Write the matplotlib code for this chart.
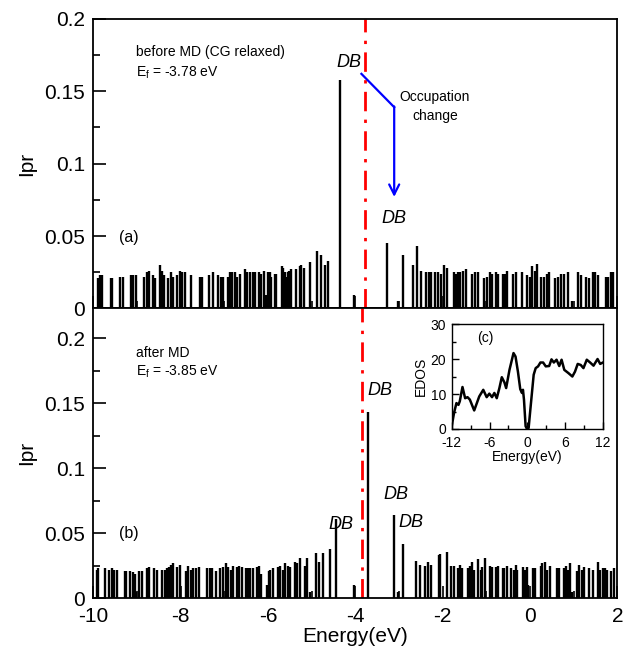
import matplotlib
matplotlib.use("Agg")
import matplotlib.pyplot as plt
from matplotlib.ticker import MultipleLocator

plt.rcParams['font.family'] = ['Liberation Sans', 'DejaVu Sans']
plt.rcParams['axes.unicode_minus'] = False

# ---------------- data ----------------
# (a) before MD: state energies (eV) and Ipr
E_a = [-9.89, -9.85, -9.79, -9.60, -9.57, -9.39, -9.33, -9.14, -9.10, -9.01,
       -8.83, -8.76, -8.72, -8.64, -8.58, -8.47, -8.42, -8.37, -8.29, -8.23,
       -8.18, -8.09, -8.02, -7.97, -7.90, -7.76, -7.56, -7.50, -7.36, -7.25,
       -7.14, -7.08, -7.02, -6.91, -6.87, -6.82, -6.76, -6.70, -6.64, -6.53,
       -6.47, -6.41, -6.35, -6.29, -6.20, -6.15, -6.08, -6.04, -6.00, -5.96,
       -5.92, -5.85, -5.82, -5.69, -5.66, -5.62, -5.59, -5.55, -5.51, -5.47,
       -5.36, -5.27, -5.24, -5.17, -5.03, -4.88, -4.78, -4.69, -4.62, -4.34,
       -4.04, -3.27, -3.02, -2.91, -2.69, -2.59, -2.49, -2.38, -2.32, -2.26,
       -2.18, -2.11, -2.03, -1.97, -1.91, -1.75, -1.70, -1.65, -1.60, -1.53,
       -1.46, -1.33, -1.26, -1.20, -1.05, -0.99, -0.91, -0.86, -0.79, -0.73,
       -0.62, -0.58, -0.53, -0.38, -0.32, -0.18, -0.07, 0.00, 0.05, 0.12,
       0.17, 0.25, 0.31, 0.38, 0.44, 0.57, 0.63, 0.70, 0.77, 0.88,
       0.97, 1.09, 1.16, 1.29, 1.34, 1.43, 1.49, 1.56, 1.73, 1.79,
       1.85, 1.91]
I_a = [0.021, 0.023, 0.023, 0.021, 0.021, 0.022, 0.022, 0.023, 0.023, 0.023,
       0.022, 0.025, 0.026, 0.023, 0.021, 0.030, 0.026, 0.023, 0.021, 0.025,
       0.022, 0.023, 0.026, 0.025, 0.025, 0.023, 0.022, 0.022, 0.023, 0.025,
       0.023, 0.022, 0.022, 0.022, 0.025, 0.025, 0.025, 0.022, 0.024, 0.027,
       0.025, 0.025, 0.025, 0.025, 0.025, 0.024, 0.026, 0.009, 0.025, 0.025,
       0.022, 0.024, 0.024, 0.029, 0.028, 0.025, 0.022, 0.025, 0.026, 0.027,
       0.027, 0.029, 0.030, 0.028, 0.032, 0.040, 0.037, 0.030, 0.033, 0.158,
       0.009, 0.045, 0.005, 0.037, 0.030, 0.043, 0.026, 0.025, 0.025, 0.025,
       0.025, 0.025, 0.024, 0.030, 0.028, 0.025, 0.024, 0.025, 0.025, 0.026,
       0.027, 0.024, 0.025, 0.025, 0.021, 0.022, 0.025, 0.024, 0.025, 0.024,
       0.024, 0.024, 0.026, 0.024, 0.025, 0.025, 0.023, 0.022, 0.029, 0.026,
       0.031, 0.022, 0.022, 0.024, 0.025, 0.021, 0.022, 0.024, 0.024, 0.025,
       0.005, 0.025, 0.023, 0.022, 0.021, 0.025, 0.025, 0.023, 0.022, 0.022,
       0.025, 0.025]

# (b) after MD
E_b = [-9.92, -9.89, -9.73, -9.63, -9.58, -9.53, -9.45, -9.27, -9.24, -9.15,
       -9.10, -9.05, -9.01, -8.95, -8.89, -8.78, -8.72, -8.60, -8.55, -8.42,
       -8.36, -8.32, -8.26, -8.21, -8.17, -8.09, -8.02, -7.88, -7.83, -7.77,
       -7.71, -7.65, -7.59, -7.40, -7.33, -7.27, -7.19, -7.10, -7.02, -6.96,
       -6.91, -6.85, -6.79, -6.72, -6.66, -6.60, -6.50, -6.45, -6.40, -6.34,
       -6.26, -6.20, -6.15, -6.03, -5.98, -5.95, -5.88, -5.77, -5.72, -5.66,
       -5.60, -5.54, -5.49, -5.39, -5.33, -5.27, -5.16, -5.11, -5.03, -4.91,
       -4.84, -4.75, -4.57, -4.44, -4.03, -3.70, -3.11, -3.03, -2.91, -2.62,
       -2.51, -2.40, -2.34, -2.27, -2.08, -2.06, -1.91, -1.80, -1.74, -1.66,
       -1.61, -1.56, -1.43, -1.37, -1.32, -1.28, -1.20, -1.13, -1.09, -1.04,
       -0.91, -0.86, -0.78, -0.73, -0.63, -0.59, -0.52, -0.44, -0.36, -0.32,
       -0.29, -0.17, -0.12, -0.06, -0.04, 0.06, 0.11, 0.25, 0.28, 0.35,
       0.38, 0.45, 0.61, 0.67, 0.77, 0.82, 0.88, 0.92, 0.96, 1.07,
       1.12, 1.18, 1.24, 1.34, 1.43, 1.56, 1.61, 1.67, 1.71, 1.77,
       1.86, 1.93]
I_b = [0.022, 0.023, 0.023, 0.022, 0.023, 0.022, 0.022, 0.021, 0.021, 0.021,
       0.020, 0.019, 0.005, 0.021, 0.021, 0.023, 0.024, 0.023, 0.022, 0.022,
       0.022, 0.023, 0.024, 0.026, 0.027, 0.024, 0.026, 0.021, 0.025, 0.022,
       0.023, 0.023, 0.024, 0.023, 0.023, 0.023, 0.021, 0.023, 0.024, 0.027,
       0.024, 0.022, 0.025, 0.024, 0.025, 0.024, 0.023, 0.023, 0.023, 0.023,
       0.024, 0.025, 0.019, 0.010, 0.021, 0.022, 0.023, 0.024, 0.025, 0.022,
       0.027, 0.025, 0.024, 0.028, 0.027, 0.031, 0.025, 0.031, 0.005, 0.035,
       0.028, 0.035, 0.038, 0.061, 0.010, 0.143, 0.064, 0.005, 0.042, 0.029,
       0.026, 0.025, 0.028, 0.026, 0.033, 0.034, 0.036, 0.025, 0.025, 0.023,
       0.026, 0.023, 0.023, 0.025, 0.028, 0.022, 0.030, 0.022, 0.024, 0.031,
       0.025, 0.024, 0.024, 0.025, 0.023, 0.023, 0.025, 0.023, 0.022, 0.026,
       0.022, 0.024, 0.022, 0.024, 0.010, 0.023, 0.023, 0.025, 0.027, 0.028,
       0.022, 0.025, 0.023, 0.023, 0.023, 0.025, 0.022, 0.027, 0.005, 0.021,
       0.026, 0.022, 0.024, 0.023, 0.022, 0.028, 0.022, 0.023, 0.023, 0.022,
       0.021, 0.023]

Ef_a = -3.78
Ef_b = -3.85

# (c) inset EDOS curve
E_dos = [-12.0, -11.63, -11.25, -10.93, -10.72, -10.29, -9.87, -9.49, -9.12, -8.43,
         -7.63, -6.99, -6.45, -6.03, -5.6, -5.23, -4.85, -4.43, -4.05, -3.63,
         -3.36, -2.83, -2.19, -1.87, -1.49, -1.12, -0.85, -0.69, -0.53, -0.27,
         -0.05, 0.21, 0.48, 1.01, 1.33, 1.71, 2.08, 2.51, 2.93, 3.47,
         3.84, 4.21, 4.64, 5.07, 5.44, 5.87, 6.51, 7.15, 7.57, 8.0,
         8.48, 8.91, 9.44, 9.97, 10.51, 11.15, 11.57, 12.0]
DOS = [0.8, 4.6, 7.4, 6.9, 7.9, 12.0, 8.8, 9.1, 8.4, 5.3,
       9.3, 11.2, 9.1, 10.1, 9.1, 10.3, 8.8, 11.7, 14.8, 13.3,
       11.7, 16.9, 21.7, 20.7, 16.4, 11.4, 10.3, 11.2, 8.4, 0.8,
       0.0, 0.3, 5.5, 15.5, 17.4, 17.9, 19.0, 19.0, 17.9, 18.0,
       19.9, 19.0, 19.8, 18.0, 19.8, 16.9, 16.0, 15.0, 16.4, 18.6,
       18.3, 17.4, 19.8, 19.0, 18.1, 20.0, 18.6, 19.0]

y_ticks = [0, 0.05, 0.1, 0.15, 0.2]
y_ticklabels = ["0", "0.05", "0.1", "0.15", "0.2"]
x_ticks = [-10, -8, -6, -4, -2, 0, 2]
x_ticklabels = ["-10", "-8", "-6", "-4", "-2", "0", "2"]

# ---------------- figure ----------------
fig = plt.figure(figsize=(6.3, 6.5), dpi=100)
ax1 = fig.add_axes([0.148, 0.5255, 0.832, 0.4455])
ax2 = fig.add_axes([0.148, 0.0795, 0.832, 0.446])

def style(ax):
    for s in ax.spines.values():
        s.set_linewidth(1.3)
    ax.tick_params(which='both', direction='in', top=False, right=False, width=1.2)
    ax.tick_params(which='major', length=9, labelsize=15, pad=6)
    ax.tick_params(which='minor', length=5)
    ax.set_xlim(-10, 2)
    ax.set_xticks(x_ticks)
    ax.xaxis.set_minor_locator(MultipleLocator(1))
    ax.set_yticks(y_ticks)
    ax.set_yticklabels(y_ticklabels)
    ax.yaxis.set_minor_locator(MultipleLocator(0.025))

dashdot = (0, (7, 3, 1.2, 3))

# top panel
ax1.vlines(E_a, 0, I_a, colors='black', lw=1.7)
ax1.axvline(Ef_a, color='red', ls=dashdot, lw=2)
style(ax1)
ax1.set_ylim(0, 0.2)
ax1.set_xticklabels([])
ax1.set_ylabel("Ipr", fontsize=15, labelpad=6)

ax1.text(-9.02, 0.177, "before MD (CG relaxed)", fontsize=10, va='center')
ax1.text(-9.02, 0.163, r"E$_\mathregular{f}$ = -3.78 eV", fontsize=10, va='center')
ax1.text(-4.14, 0.170, "DB", fontsize=13, style='italic', ha='center', va='center')
ax1.text(-3.11, 0.062, "DB", fontsize=13, style='italic', ha='center', va='center')
ax1.text(-9.40, 0.049, "(a)", fontsize=11.5, va='center')
ax1.text(-2.18, 0.1395, "Occupation\nchange", fontsize=10, ha='center', va='center',
         linespacing=1.5)
ax1.plot([-3.86, -3.11], [0.162, 0.139], color='blue', lw=1.6)
ax1.annotate("", xy=(-3.11, 0.077), xytext=(-3.11, 0.1395),
             arrowprops=dict(arrowstyle='->', color='blue', lw=1.6,
                             mutation_scale=18, shrinkA=0, shrinkB=0))

# bottom panel
ax2.vlines(E_b, 0, I_b, colors='black', lw=1.7)
ax2.axvline(Ef_b, color='red', ls=dashdot, lw=2)
style(ax2)
ax2.set_ylim(0, 0.223)
ax2.set_xticklabels(x_ticklabels)
ax2.set_ylabel("Ipr", fontsize=15, labelpad=6)
ax2.set_xlabel("Energy(eV)", fontsize=15, labelpad=1)

ax2.text(-9.02, 0.189, "after MD", fontsize=10, va='center')
ax2.text(-9.02, 0.174, r"E$_\mathregular{f}$ = -3.85 eV", fontsize=10, va='center')
ax2.text(-3.43, 0.160, "DB", fontsize=13, style='italic', ha='center', va='center')
ax2.text(-4.32, 0.057, "DB", fontsize=13, style='italic', ha='center', va='center')
ax2.text(-3.08, 0.0795, "DB", fontsize=13, style='italic', ha='center', va='center')
ax2.text(-2.72, 0.0587, "DB", fontsize=13, style='italic', ha='center', va='center')
ax2.text(-9.40, 0.050, "(b)", fontsize=11.5, va='center')

# inset
ax3 = fig.add_axes([0.717, 0.34, 0.240, 0.1615])
ax3.plot(E_dos, DOS, color='black', lw=1.8)
ax3.set_xlim(-12, 12)
ax3.set_ylim(0, 30)
ax3.set_xticks([-12, -6, 0, 6, 12])
ax3.set_yticks([0, 10, 20, 30])
ax3.xaxis.set_minor_locator(MultipleLocator(3))
ax3.yaxis.set_minor_locator(MultipleLocator(5))
ax3.tick_params(which='both', direction='in', width=1.0, labelsize=10)
ax3.tick_params(axis='x', pad=5)
ax3.tick_params(axis='y', pad=4)
ax3.tick_params(which='major', length=5)
ax3.tick_params(which='minor', length=3)
for s in ax3.spines.values():
    s.set_linewidth(1.0)
ax3.set_ylabel("EDOS", fontsize=10, labelpad=2)
ax3.set_xlabel("Energy(eV)", fontsize=10, labelpad=0)
ax3.text(-8.0, 26, "(c)", fontsize=10, va='center')

fig.savefig("out.png", dpi=100)
